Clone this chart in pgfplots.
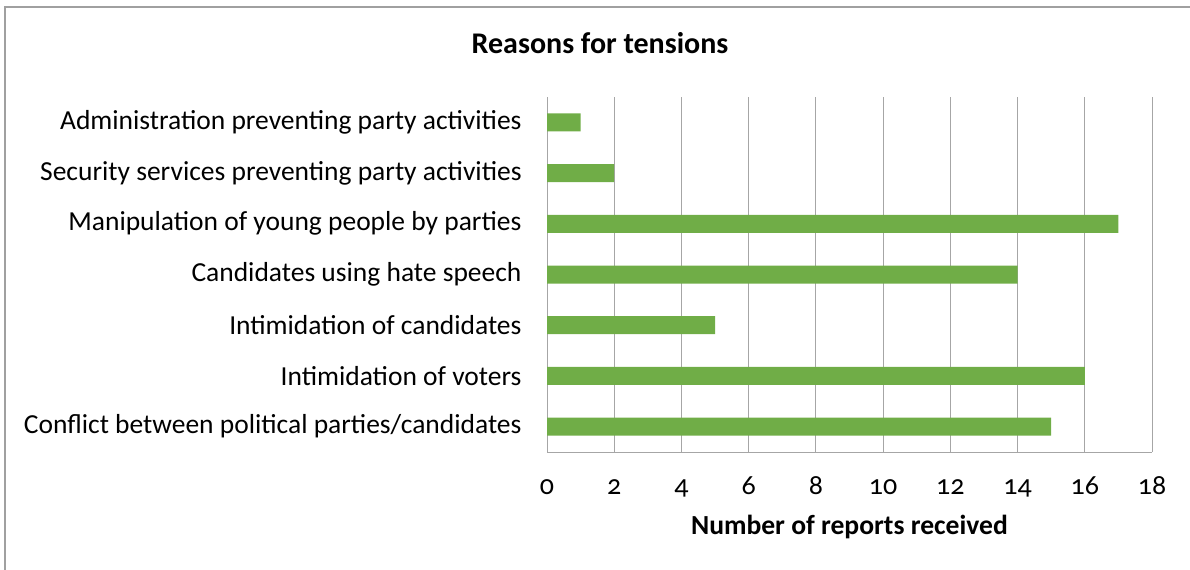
\documentclass[border=0pt]{standalone}
\usepackage{pgfplots}
\pgfplotsset{compat=1.18}
\usepackage{fontspec}
\setmainfont{Carlito}[Numbers=OldStyle]
\definecolor{bargreen}{HTML}{70AD47}
\definecolor{gridgray}{HTML}{A6A6A6}
\definecolor{framegray}{HTML}{A0A0A0}
\begin{document}
\begin{tikzpicture}
\path[use as bounding box] (0,0) rectangle (1190bp,-570bp);
\draw[framegray, line width=1.2bp] (5bp,-570bp) -- (5bp,-7bp) -- (1190bp,-7bp);
\begin{axis}[
  at={(547bp,-452bp)}, anchor=south west,
  scale only axis, width=605bp, height=355bp,
  xbar, bar width=18bp,
  xmin=0, xmax=18, ymin=-0.5, ymax=6.5,
  xtick={0,2,...,18},
  ytick={0,...,6},
  yticklabels={Conflict between political parties/candidates, Intimidation of voters, Intimidation of candidates, Candidates using hate speech, Manipulation of young people by parties, Security services preventing party activities, Administration preventing party activities},
  axis x line*=bottom, axis y line*=left,
  axis line style={gridgray, line width=1bp, -},
  major tick length=0pt,
  xmajorgrids, grid style={gridgray, line width=1bp},
  /pgf/number format/assume math mode=true,
  yticklabel style={font=\fontsize{27.5bp}{32bp}\selectfont, text=black, xshift=-22bp},
  xticklabel style={font=\fontsize{28bp}{32bp}\selectfont, text=black, anchor=base, yshift=-42bp},
  title={\textbf{Reasons for tensions}},
  title style={at={(rel axis cs:0.0876,1.107)}, anchor=base, font=\fontsize{30bp}{34bp}\selectfont},
  xlabel={\textbf{Number of reports received}},
  xlabel style={at={(rel axis cs:0.5,-0.231)}, anchor=base, font=\fontsize{27.6bp}{32bp}\selectfont},
]
\addplot[fill=bargreen, draw=none] coordinates {(15,0) (16,1) (5,2) (14,3) (17,4) (2,5) (1,6)};
\end{axis}
\end{tikzpicture}
\end{document}
